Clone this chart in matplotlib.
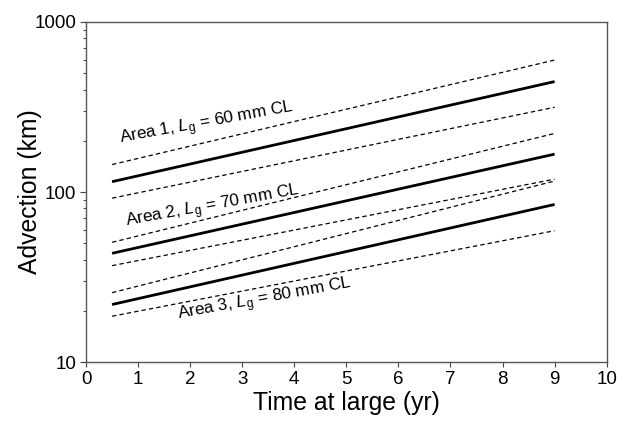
import matplotlib
matplotlib.use("Agg")
import matplotlib.pyplot as plt
import numpy as np

plt.rcParams['font.family'] = ['Liberation Sans', 'DejaVu Sans']
plt.rcParams['mathtext.fontset'] = 'custom'
plt.rcParams['mathtext.it'] = 'Liberation Sans:italic'
plt.rcParams['mathtext.rm'] = 'Liberation Sans'

# Time at large (yr) endpoints
t = [0.5, 9.0]

# Area 1 (Lg = 60 mm CL)
a1_mid = [115, 446]
a1_hi = [145, 597]
a1_lo = [92, 315]
# Area 2 (Lg = 70 mm CL)
a2_mid = [43.6, 167]
a2_hi = [50.6, 221]
a2_lo = [36.9, 119]
# Area 3 (Lg = 80 mm CL)
a3_mid = [21.8, 84.5]
a3_hi = [25.6, 116]
a3_lo = [18.6, 59.2]

labels = ["Area 1, $L_{\\mathrm{g}}$ = 60 mm CL",
          "Area 2, $L_{\\mathrm{g}}$ = 70 mm CL",
          "Area 3, $L_{\\mathrm{g}}$ = 80 mm CL"]
label_x = [2.32, 2.44, 3.44]
label_y = [250, 82, 23.2]

fig = plt.figure(figsize=(6.28, 4.22), dpi=100)
ax = fig.add_axes([0.137, 0.142, 0.829, 0.806])

dash = (0, (3.5, 2.5))
for mid, hi, lo in [(a1_mid, a1_hi, a1_lo), (a2_mid, a2_hi, a2_lo), (a3_mid, a3_hi, a3_lo)]:
    ax.plot(t, mid, color='black', lw=2.0, solid_capstyle='butt')
    ax.plot(t, hi, color='black', lw=0.9, linestyle=dash)
    ax.plot(t, lo, color='black', lw=0.9, linestyle=dash)

ax.set_yscale('log')
ax.set_xlim(0, 10)
ax.set_ylim(10, 1000)
ax.set_xticks(range(0, 11))
ax.set_yticks([10, 100, 1000])
ax.set_yticklabels(['10', '100', '1000'])

for lab, lx, ly in zip(labels, label_x, label_y):
    ax.text(lx, ly, lab, fontsize=12.3, rotation=10.3, ha='center', va='center',
            rotation_mode='anchor')

ax.set_xlabel('Time at large (yr)', fontsize=17.8, labelpad=2)
ax.set_ylabel('Advection (km)', fontsize=17.8)
ax.yaxis.set_label_coords(-0.085, 0.5)

ax.tick_params(axis='x', which='major', labelsize=13.5, direction='out', length=3.5,
               width=0.8, color='#444444', pad=3)
ax.tick_params(axis='y', which='major', labelsize=13.5, direction='out', length=4.2,
               width=0.8, color='#444444', pad=3)
ax.tick_params(axis='y', which='minor', direction='out', length=2.3, width=0.7, color='#444444')
for s in ax.spines.values():
    s.set_color('#555555')
    s.set_linewidth(1.0)

fig.savefig('out.png', dpi=100)
